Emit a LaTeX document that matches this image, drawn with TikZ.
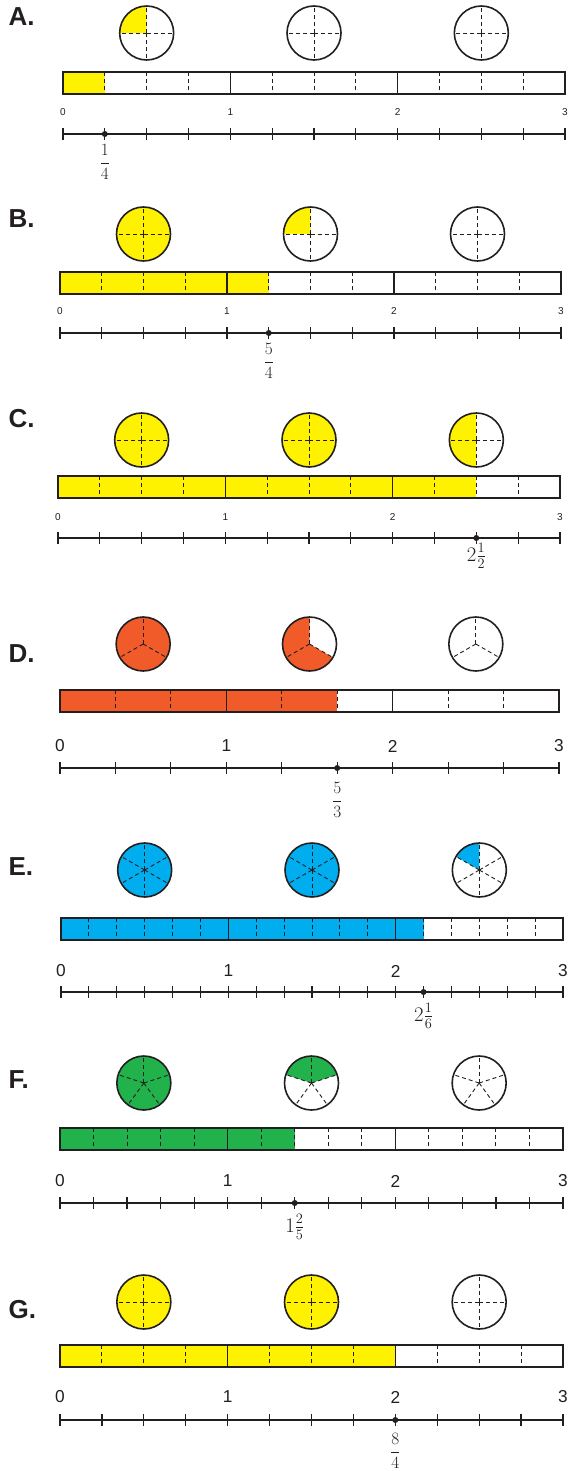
\documentclass[tikz,border=0pt]{standalone}
\usepackage{amsmath}
\usepackage{fontspec}
\setsansfont{Liberation Sans}
\definecolor{ink}{HTML}{231F20}
\definecolor{yel}{HTML}{FFF200}
\definecolor{org}{HTML}{F15A29}
\definecolor{blu}{HTML}{00AEEF}
\definecolor{grn}{HTML}{22B24C}
\begin{document}
\begin{tikzpicture}[x=1pt,y=1pt,
  outline/.style={draw=ink,line width=1.6pt},
  divline/.style={draw=ink,line width=0.9pt,dash pattern=on 4pt off 3pt},
  axis/.style={draw=ink,line width=1.2pt}]
\useasboundingbox (0,0) rectangle (568,-1471);
% letter/den/num/colour/start/value/size/x0/x3/y letter/y circles/y bar/y digits/y line/y value
\foreach \lbl/\d/\n/\col/\st/\txt/\sz/\xa/\xb/\ylt/\yc/\yb/\yd/\yn/\yf in {
  A/4/1/yel/90/{\LARGE$\dfrac{1}{4}$}/\normalsize/63/565/17/33/72/112/134/162,
  B/4/5/yel/90/{\LARGE$\dfrac{5}{4}$}/\normalsize/60/561/219/234/272/311/333/361,
  C/4/10/yel/90/{\huge$2\frac{1}{2}$}/\normalsize/58/560/419/440/476/517/538/556,
  D/3/5/org/90/{\LARGE$\dfrac{5}{3}$}/\LARGE/60/559/654/644/690/746/768/800,
  E/6/13/blu/90/{\huge$2\frac{1}{6}$}/\LARGE/61/563/867/870/918/971/992/1016,
  F/5/7/grn/18/{\huge$1\frac{2}{5}$}/\LARGE/60/563/1080/1083/1128/1181/1203/1227,
  G/4/8/yel/90/{\LARGE$\dfrac{8}{4}$}/\LARGE/60/563/1310/1302/1345/1397/1420/1451}{
  \pgfmathsetmacro\u{(\xb-\xa)/3}
  \node[font=\sffamily\bfseries\fontsize{26}{30}\selectfont,text=ink,anchor=west] (let\lbl) at (5,-\ylt) {\lbl.};
  % pies
  \foreach \k in {0,1,2}{
    \pgfmathsetmacro\cx{\xa+(\k+0.5)*\u}
    \pgfmathsetmacro\f{min(max(\n/\d-\k,0),1)}
    \coordinate (o\lbl\k) at (\cx,-\yc);
    \ifdim\f pt>0.001pt
      \fill[\col] (o\lbl\k) -- ++(\st:27) arc[start angle=\st,delta angle=360*\f,radius=27] -- cycle;
    \fi
    \foreach \j in {1,...,\d} \draw[divline] (o\lbl\k) -- ++(90+\j*360/\d:27);
    \draw[outline] (o\lbl\k) circle[radius=27];
  }
  % bar
  \pgfmathtruncatemacro\m{3*\d-1}
  \fill[\col] (\xa,-\yb) rectangle ({\xa+\n/\d*\u},-\yb-22);
  \foreach \j in {1,...,\m}{
    \pgfmathtruncatemacro\r{mod(\j,\d)}
    \pgfmathsetmacro\bx{\xa+\j*\u/\d}
    \ifnum\r=0 \draw[outline] (\bx,-\yb) -- ++(0,-22);
    \else \draw[divline] (\bx,-\yb) -- ++(0,-22); \fi
  }
  \draw[outline] (\xa,-\yb) rectangle (\xb,-\yb-22);
  % number line
  \foreach \i in {0,...,3}
    \node[font=\sffamily\sz,text=ink] (num\lbl\i) at ({\xa+\i*\u},-\yd) {\i};
  \draw[axis] (\xa,-\yn) -- (\xb,-\yn);
  \pgfmathtruncatemacro\t{3*\d}
  \foreach \j in {0,...,\t} \draw[axis] ({\xa+\j*\u/\d},-\yn+6) -- ++(0,-12);
  \coordinate (pt\lbl) at ({\xa+\n/\d*\u},-\yn);
  \fill[ink] (pt\lbl) circle[radius=3];
  \node[text=ink] (val\lbl) at ({\xa+\n/\d*\u},-\yf) {\txt};
}
\end{tikzpicture}
\end{document}
